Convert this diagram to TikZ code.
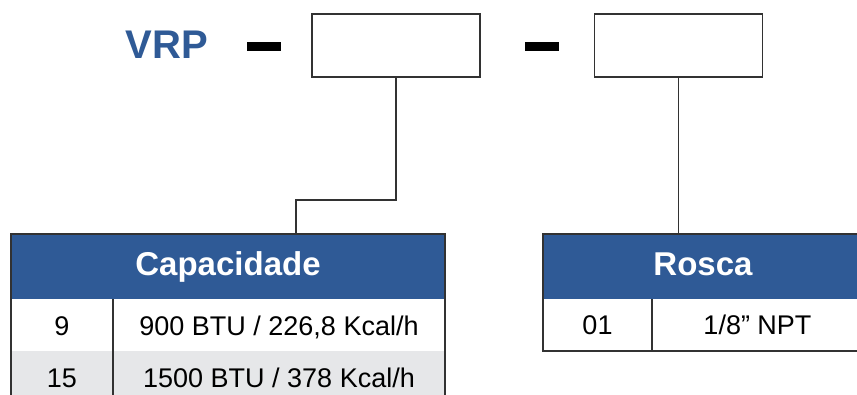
\documentclass[tikz,border=0pt]{standalone}
\usepackage{fontspec}
\setmainfont{Liberation Sans}
\definecolor{hblue}{RGB}{47,90,150}
\definecolor{rowgray}{RGB}{230,231,233}
\definecolor{bord}{RGB}{50,50,50}
\begin{document}
\begin{tikzpicture}[x=1pt,y=-1pt,
  codebox/.style={draw=bord,line width=1.2pt,fill=white,minimum width=168pt,minimum height=63pt,inner sep=0pt},
  hdrfill/.style={fill=hblue,draw=none,inner sep=0pt,minimum height=65pt},
  hdrtext/.style={text=white,font=\fontsize{33}{33}\selectfont\bfseries,anchor=base,inner sep=0pt},
  celltext/.style={text=black,font=\fontsize{27}{27}\selectfont,anchor=base,inner sep=0pt},
  rule/.style={draw=bord,line width=1.2pt},
  conn/.style={draw=bord,line width=1.3pt},
  dashbar/.style={fill=black,draw=none,minimum width=34pt,minimum height=9pt,inner sep=0pt}]
\useasboundingbox (0,0) rectangle (857,394);
\fill[white] (0,0) rectangle (857,394);
% top line
\node[anchor=base,inner sep=0pt,text=hblue,font=\fontsize{40}{40}\selectfont\bfseries] (vrp) at (167,58) {VRP};
\node[dashbar] (d1) at (264,46.5) {};
\node[codebox] (box1) at (396,45.5) {};
\node[dashbar] (d2) at (542,46.5) {};
\node[codebox] (box2) at (678.5,45.5) {};
% table 1
\node[hdrfill,minimum width=434pt] (caph) at (228,266.5) {};
\fill[rowgray] (11,351) rectangle (445,400);
\node[hdrtext] (capt) at (228,275) {Capacidade};
\draw[rule] (11,400) -- (11,234) -- (445,234) -- (445,400);
\draw[rule] (113,299) -- (113,400);
\node[celltext] (c11) at (62,335) {9};
\node[celltext] (c12) at (279,335) {900 BTU / 226,8 Kcal/h};
\node[celltext] (c21) at (62,387) {15};
\node[celltext] (c22) at (279,387) {1500 BTU / 378 Kcal/h};
% table 2
\node[hdrfill,minimum width=320pt] (rosh) at (703,266.5) {};
\node[hdrtext] (rost) at (703,275) {Rosca};
\draw[rule] (870,234) -- (543,234) -- (543,351) -- (870,351);
\draw[rule] (652,299) -- (652,351);
\node[celltext] (r11) at (597.5,334) {01};
\node[celltext] (r12) at (757.5,334) {1/8” NPT};
% connectors
\coordinate (k1) at (296,234);
\coordinate (k2) at (box2.south |- caph.north);
\draw[conn] (box1.south) -- (box1.south |- 0,200) -| (k1);
\draw[conn] (box2.south) -- (k2);
\end{tikzpicture}
\end{document}
